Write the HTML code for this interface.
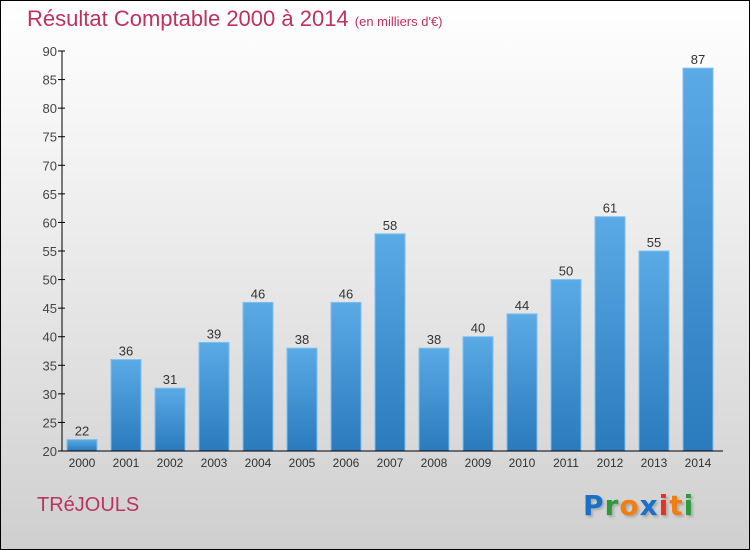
<!DOCTYPE html>
<html><head><meta charset="utf-8">
<style>
body{margin:0}
#wrap{position:relative;width:748px;height:548px;border:1px solid #000;background:linear-gradient(#ffffff,#f2f2f2 30%,#cfcfcf);font-family:"Liberation Sans",sans-serif;overflow:hidden}
#title{position:absolute;left:26px;top:5px;font-size:22px;color:#c0315e;white-space:nowrap}
#title span{font-size:13px}
#town{position:absolute;left:36px;top:493px;font-size:20px;color:#b9345f}
#logo{position:absolute;left:582px;top:488px;font-size:28px;font-weight:bold;font-family:"DejaVu Sans",sans-serif;letter-spacing:1px;text-shadow:2px 2px 2px #aaa}
</style></head><body>
<div id="wrap">
<div id="title">Résultat Comptable 2000 à 2014 <span>(en milliers d'€)</span></div>
<svg id="chart" width="748" height="548" style="position:absolute;left:0;top:0">
<defs><linearGradient id="bg" x1="0" y1="0" x2="0" y2="1"><stop offset="0" stop-color="#5aaae6"/><stop offset="1" stop-color="#2a7bbd"/></linearGradient></defs>
</svg>
<div id="town">TRéJOULS</div>
<div id="logo"><span style="color:#1a6fc9">P</span><span style="color:#2a9a3a">r</span><span style="color:#f07f10">o</span><span style="color:#1a6fc9">x</span><span style="color:#e83020">i</span><span style="color:#f07f10">t</span><span style="color:#2a9a3a">i</span></div>
</div>
<script>
const years=["2000","2001","2002","2003","2004","2005","2006","2007","2008","2009","2010","2011","2012","2013","2014"];
const values=[22,36,31,39,46,38,46,58,38,40,44,50,61,55,87];
const yTicks=[20,25,30,35,40,45,50,55,60,65,70,75,80,85,90];
const svg=document.getElementById('chart');
const NS="http://www.w3.org/2000/svg";
const yMin=20,yMax=90,y0=450,y1=50;
function y(v){return y0-(v-yMin)/(yMax-yMin)*(y0-y1);}
function x(i){return 66+i*44;}
function mk(t,a){const e=document.createElementNS(NS,t);for(const k in a)e.setAttribute(k,a[k]);svg.appendChild(e);return e;}
yTicks.forEach(v=>{
 const l=mk('line',{x1:57,x2:64,y1:y(v),y2:y(v),stroke:'#000'});
 
 
 const t=mk('text',{x:56,y:y(v)+5,'text-anchor':'end','font-size':13,fill:'#444','font-family':'Liberation Sans, sans-serif'});
 t.textContent=v;
 
 
});
const ax=mk('line',{x1:61,x2:61,y1:y1,y2:y0,stroke:'#000'});


values.forEach((v,i)=>{
 const r=mk('rect',{x:x(i),y:y(v),width:30,height:y0-y(v),fill:'url(#bg)',stroke:'#7fc0ee','stroke-width':1});
 
 
 const t=mk('text',{x:x(i)+15,y:y(v)-4,'text-anchor':'middle','font-size':13,fill:'#333','font-family':'Liberation Sans, sans-serif'});
 t.textContent=v;
 
 
 const xl=mk('text',{x:x(i)+15,y:466,'text-anchor':'middle','font-size':12,fill:'#333','font-family':'Liberation Sans, sans-serif'});
 xl.textContent=years[i];
 
 
});
const xa=mk('line',{x1:61,x2:722,y1:y0,y2:y0,stroke:'#000'});


</script>
</body></html>
